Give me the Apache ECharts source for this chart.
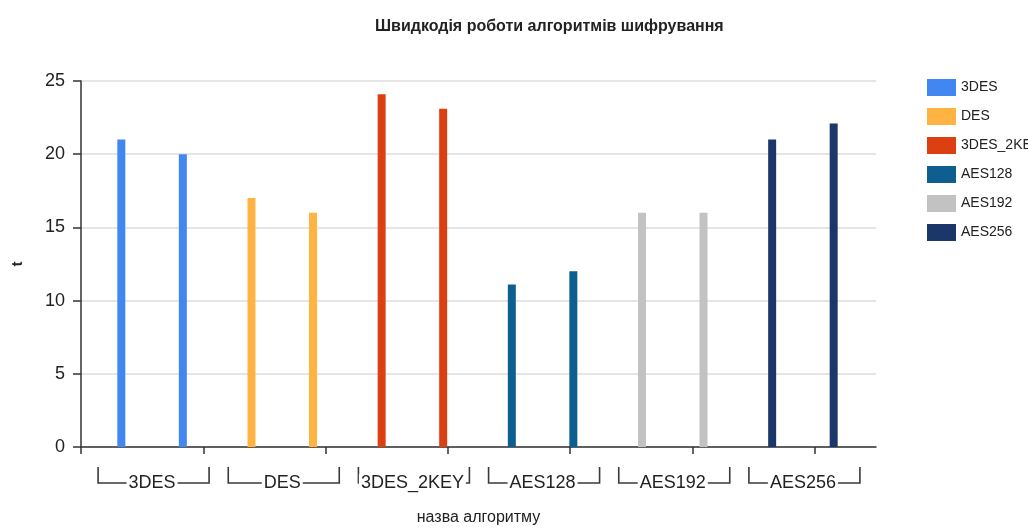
<!DOCTYPE html>
<html><head><meta charset="utf-8">
<script src="https://cdn.jsdelivr.net/npm/echarts@6/dist/echarts.min.js"></script>
<style>html,body{margin:0;padding:0;background:#fff}#c{width:1028px;height:530px}</style>
</head><body><div id="c"></div>
<script>
const chartTitle = 'Швидкодія роботи алгоритмів шифрування';
const categories = ['3DES', 'DES', '3DES_2KEY', 'AES128', 'AES192', 'AES256'];
const seriesNames = ['3DES', 'DES', '3DES_2KEY', 'AES128', 'AES192', 'AES256'];
const firstValues = [21, 17, 24.1, 11.1, 16, 21];
const secondValues = [20, 16, 23.1, 12, 16, 22.1];
const colors = ['#4286f1', '#ffb342', '#dc3f12', '#0e5f8f', '#c2c2c2', '#1b3769'];
const yTicks = [0, 5, 10, 15, 20, 25];
const xTickValues = [0, 1, 2, 3, 4, 5, 6];
const xAxisName = 'назва алгоритму';
const yAxisName = 't';

const FONT = "'Liberation Sans Narrow', 'Arial Narrow', 'Liberation Sans', Arial, sans-serif";
const TXT = '#222';

const chart = echarts.init(document.getElementById('c'), null, { renderer: 'canvas' });

const series = [];
[firstValues, secondValues].forEach((vals, run) => {
  seriesNames.forEach((name, i) => {
    series.push({
      name: name,
      type: 'bar',
      xAxisIndex: 1,
      yAxisIndex: 1,
      stack: 'run' + run,
      barWidth: 8,
      barGap: '669%',
      itemStyle: { color: colors[i] },
      emphasis: { disabled: true },
      data: categories.map((c, j) => (j === i ? vals[i] : '-'))
    });
  });
});

series.push({
  name: 'brackets',
  type: 'custom',
  xAxisIndex: 1,
  yAxisIndex: 1,
  z: -1,
  silent: true,
  clip: false,
  data: categories.map((c, i) => [i, 0]),
  renderItem: function (params, api) {
    const p = api.coord([api.value(0), 0]);
    const cx = p[0] + 1.5, y0 = p[1];
    const half = 55.5, top = y0 + 20, mid = y0 + 36;
    const st = { stroke: '#3a3a3a', lineWidth: 1.6, fill: null };
    return {
      type: 'group',
      children: [
        { type: 'polyline', shape: { points: [[cx - half, top], [cx - half, mid], [cx, mid]] }, style: st },
        { type: 'polyline', shape: { points: [[cx + half, top], [cx + half, mid], [cx, mid]] }, style: st }
      ]
    };
  }
});

const option = {
  backgroundColor: '#fff',
  animation: false,
  title: {
    text: chartTitle,
    left: 370,
    top: 14,
    textStyle: { fontFamily: FONT, fontSize: 16, fontWeight: 'bold', color: TXT }
  },
  legend: {
    data: seriesNames,
    orient: 'vertical',
    left: 922,
    top: 74,
    icon: 'rect',
    itemWidth: 29,
    itemHeight: 17,
    itemGap: 12,
    itemStyle: { borderWidth: 0 },
    textStyle: { fontFamily: FONT, fontSize: 14, color: TXT, lineHeight: 17 }
  },
  grid: [
    { left: 81, right: 152, top: 81, bottom: 83, outerBoundsMode: 'none', containLabel: false },
    { left: 87, right: 160, top: 81, bottom: 83, outerBoundsMode: 'none', containLabel: false }
  ],
  xAxis: [
    {
      gridIndex: 0, type: 'value', min: 0, max: 6.5, interval: 1,
      axisLine: { show: true, lineStyle: { color: '#333', width: 1.5 } },
      axisTick: { show: true, length: 7, customValues: xTickValues, lineStyle: { color: '#333', width: 1.5 } },
      axisLabel: { show: false },
      splitLine: { show: false },
      name: xAxisName, nameLocation: 'middle', nameGap: 63,
      nameTextStyle: { fontFamily: FONT, fontSize: 16, color: TXT }
    },
    {
      gridIndex: 1, type: 'category', data: categories,
      axisLine: { show: false }, axisTick: { show: false },
      axisLabel: {
        margin: 27, fontFamily: FONT, fontSize: 18, color: TXT,
        backgroundColor: '#fff', padding: [0, 2], interval: 0
      }
    }
  ],
  yAxis: [
    {
      gridIndex: 0, type: 'value', min: 0, max: 25, interval: 5,
      axisLine: { show: true, lineStyle: { color: '#333', width: 1.5 } },
      axisTick: { show: true, length: 8, lineStyle: { color: '#333', width: 1.5 } },
      axisLabel: { margin: 16, fontFamily: FONT, fontSize: 18, color: TXT, customValues: yTicks },
      splitLine: { show: true, lineStyle: { color: '#dcdcdc', width: 1.5 } },
      name: yAxisName, nameLocation: 'middle', nameGap: 56, nameRotate: 90,
      nameTextStyle: { fontFamily: FONT, fontSize: 15, color: TXT, fontWeight: 'bold' }
    },
    { gridIndex: 1, type: 'value', min: 0, max: 25, interval: 5, show: false }
  ],
  series: series
};
chart.setOption(option);
</script>
</body></html>
